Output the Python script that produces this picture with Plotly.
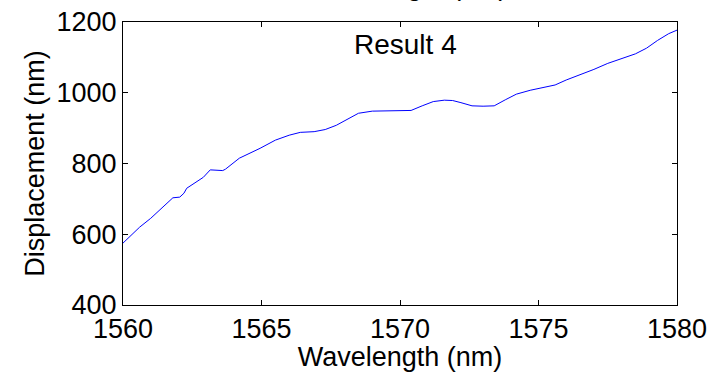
import plotly.graph_objects as go

wavelength = [1560.0, 1560.3, 1560.6, 1561.0, 1561.45, 1561.8, 1562.05, 1562.2, 1562.3, 1562.6,
              1562.9, 1563.15, 1563.5, 1563.6, 1563.7, 1564.2, 1564.95, 1565.5, 1566.0, 1566.4,
              1566.9, 1567.3, 1567.7, 1568.1, 1568.5, 1569.0, 1569.5, 1570.0, 1570.4, 1570.8,
              1571.2, 1571.6, 1571.9, 1572.2, 1572.6, 1573.0, 1573.4, 1573.8, 1574.2, 1574.7,
              1575.2, 1575.6, 1576.0, 1576.5, 1577.0, 1577.5, 1578.0, 1578.5, 1578.9, 1579.3,
              1579.7, 1580.0]
displacement = [575, 598, 620, 645, 678, 703, 705, 716, 730, 745,
                761, 782, 782, 780, 784, 815, 843, 866, 880, 888,
                890, 896, 908, 925, 942, 948, 948, 948, 950, 963,
                975, 979, 978, 972, 963, 962, 963, 980, 996, 1007,
                1015, 1022, 1036, 1050, 1066, 1083, 1097, 1110, 1126, 1148,
                1167, 1177]

x_ticks = [1560, 1565, 1570, 1575, 1580]
y_ticks = [400, 600, 800, 1000, 1200]

FONT = "Liberation Sans, Arial, sans-serif"

fig = go.Figure()
fig.add_trace(go.Scatter(x=wavelength, y=displacement, mode="lines",
                         line=dict(color="rgb(0,0,255)", width=1), showlegend=False))

axis_common = dict(showline=True, linecolor="black", linewidth=1, mirror="ticks",
                   ticks="inside", ticklen=5, tickcolor="black", showgrid=False,
                   zeroline=False, automargin=False,
                   tickfont=dict(family=FONT, size=27, color="black"))

fig.update_xaxes(range=[1560, 1580], tickvals=x_ticks, ticktext=[str(v) for v in x_ticks],
                 title=dict(text="Wavelength (nm)", font=dict(family=FONT, size=27, color="black"), standoff=5),
                 **axis_common)
fig.update_yaxes(range=[400, 1200], tickvals=y_ticks, ticktext=[str(v) for v in y_ticks],
                 title=dict(text="Displacement (nm)", font=dict(family=FONT, size=27, color="black"), standoff=4),
                 **axis_common)

fig.add_annotation(text="Result 4", xref="paper", yref="paper", x=0.51, y=0.919,
                   xanchor="center", yanchor="middle", showarrow=False,
                   font=dict(family=FONT, size=28, color="black"))
# clipped title of the subplot above
fig.add_annotation(text="Wavelength (nm)", xref="paper", yref="paper", x=0.51, y=1.066,
                   xanchor="center", yanchor="bottom", showarrow=False,
                   font=dict(family=FONT, size=27, color="black"))

fig.update_layout(width=712, height=372, margin=dict(l=123, r=35, t=22, b=67),
                  paper_bgcolor="white", plot_bgcolor="white")

fig.write_html("out.html")
